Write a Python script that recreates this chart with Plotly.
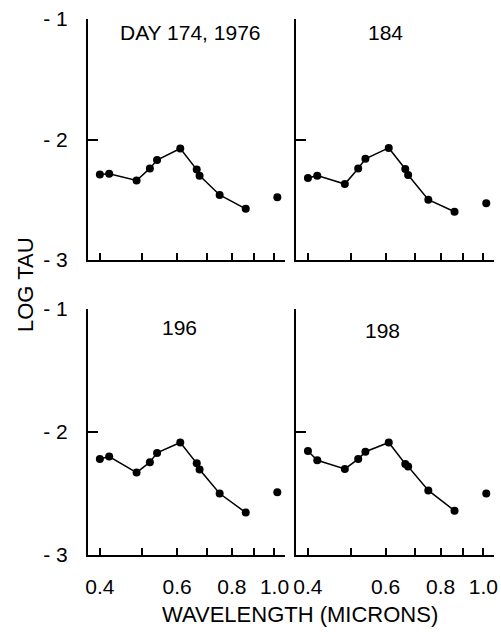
import plotly.graph_objects as go

# Sun-photometer wavelengths (microns); the last channel is plotted unconnected
wavelengths = [0.40, 0.42, 0.485, 0.52, 0.54, 0.61, 0.665, 0.675, 0.75, 0.86]
wavelength_ir = 1.015

days = ["DAY 174, 1976", "184", "196", "198"]

log_tau_174 = [-2.29, -2.285, -2.34, -2.24, -2.17, -2.075, -2.25, -2.30, -2.46, -2.575]
log_tau_184 = [-2.32, -2.30, -2.37, -2.24, -2.16, -2.07, -2.245, -2.295, -2.50, -2.60]
log_tau_196 = [-2.22, -2.20, -2.33, -2.245, -2.17, -2.085, -2.255, -2.305, -2.50, -2.655]
log_tau_198 = [-2.155, -2.23, -2.30, -2.22, -2.16, -2.085, -2.26, -2.28, -2.475, -2.64]
log_tau_ir = [-2.48, -2.53, -2.49, -2.50]

series = [log_tau_174, log_tau_184, log_tau_196, log_tau_198]

x_tickvals = [0.4, 0.5, 0.6, 0.7, 0.8, 0.9, 1.0]
x_ticktext = ["0.4", "", "0.6", "", "0.8", "", "1.0"]
y_tickvals = [-3, -2, -1]
y_ticktext = ["- 3", "- 2", "- 1"]

W, H = 501, 633
FONT = "Liberation Sans"

# panel placement in pixels: (left, right, top, bottom)
panels = [(88, 285, 19, 260), (296, 494, 19, 260),
          (88, 285, 309, 555), (296, 494, 309, 555)]

fig = go.Figure()
layout = dict(
    width=W, height=H,
    margin=dict(l=0, r=0, t=0, b=0, pad=0, autoexpand=False),
    paper_bgcolor="white", plot_bgcolor="white",
    showlegend=False,
    font=dict(family=FONT, size=21, color="black"),
)

for i, (vals, ir) in enumerate(zip(series, log_tau_ir)):
    n = i + 1
    xa = "x" if n == 1 else f"x{n}"
    ya = "y" if n == 1 else f"y{n}"
    fig.add_trace(go.Scatter(
        x=wavelengths, y=vals, xaxis=xa, yaxis=ya,
        mode="lines+markers",
        line=dict(color="black", width=1.5),
        marker=dict(color="black", size=8),
    ))
    fig.add_trace(go.Scatter(
        x=[wavelength_ir], y=[ir], xaxis=xa, yaxis=ya,
        mode="markers",
        marker=dict(color="black", size=8),
    ))

    l, r, t, b = panels[i]
    bottom_row = i >= 2
    left_col = i % 2 == 0
    xkey = "xaxis" if n == 1 else f"xaxis{n}"
    ykey = "yaxis" if n == 1 else f"yaxis{n}"
    layout[xkey] = dict(
        type="log", range=[-0.425, 0.024],
        domain=[l / W, r / W], anchor=ya, automargin=False,
        showline=True, linecolor="black", linewidth=2,
        ticks="inside", ticklen=7, tickwidth=1.5, tickcolor="black",
        tickmode="array", tickvals=x_tickvals,
        ticktext=x_ticktext if bottom_row else [""] * len(x_tickvals),
        showticklabels=bottom_row, ticklabelstandoff=12,
        showgrid=False, zeroline=False,
        tickfont=dict(family=FONT, size=21),
    )
    layout[ykey] = dict(
        range=[-3, -1],
        domain=[1 - b / H, 1 - t / H], anchor=xa, automargin=False,
        showline=True, linecolor="black", linewidth=2,
        ticks="inside", ticklen=10, tickwidth=1.5, tickcolor="black",
        tickmode="array", tickvals=y_tickvals, ticktext=y_ticktext,
        showticklabels=left_col, ticklabelstandoff=14,
        showgrid=False, zeroline=False,
        tickfont=dict(family=FONT, size=21),
    )

# panel headings
heading_pos = [(190, 33), (385, 33), (179, 328), (382, 330)]
annotations = []
for text, (px, py) in zip(days, heading_pos):
    annotations.append(dict(
        text=text, x=px / W, y=1 - py / H, xref="paper", yref="paper",
        showarrow=False, xanchor="center", yanchor="middle",
        font=dict(family=FONT, size=21),
    ))

# shared axis titles
annotations.append(dict(
    text="LOG TAU", x=25 / W, y=1 - 285 / H, xref="paper", yref="paper",
    showarrow=False, textangle=-90, xanchor="center", yanchor="middle",
    font=dict(family=FONT, size=22),
))
annotations.append(dict(
    text="WAVELENGTH (MICRONS)", x=300 / W, y=1 - 614 / H, xref="paper", yref="paper",
    showarrow=False, xanchor="center", yanchor="middle",
    font=dict(family=FONT, size=22),
))
layout["annotations"] = annotations

fig.update_layout(**layout)
fig.write_html("out.html")
